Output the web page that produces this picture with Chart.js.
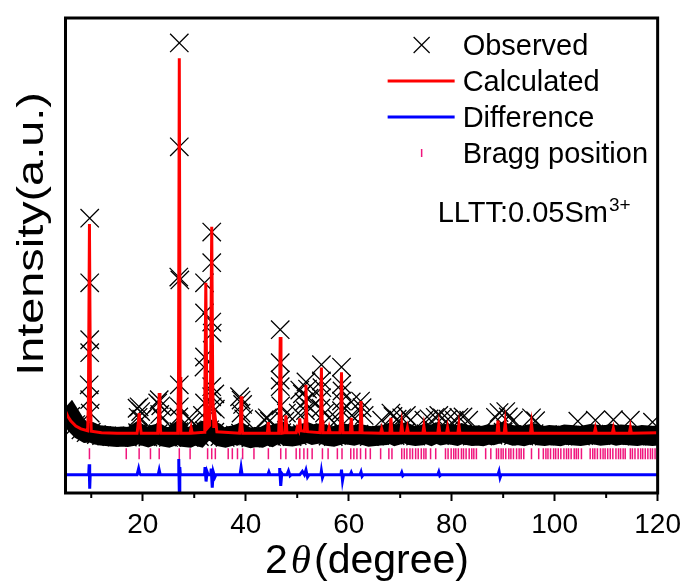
<!DOCTYPE html>
<html>
<head>
<meta charset="utf-8">
<script src="https://cdn.jsdelivr.net/npm/chart.js@4.4.1/dist/chart.umd.min.js"></script>
<style>
  html, body { margin: 0; padding: 0; background: #fff; }
  canvas { display: block; }
</style>
</head>
<body>
<canvas id="chart" width="688" height="583"></canvas>
<script>
// axis ticks
var xTickLabels = [20, 40, 60, 80, 100, 120];
var xMinorTicks = [10, 30, 50, 70, 90, 110];

// observed background, read about once per degree
var obsBaseX = [5, 6, 7, 8, 9, 10, 11, 12, 13, 14,
  15, 16, 17, 18, 19, 20, 21, 22, 23, 24,
  25, 26, 27, 28, 29, 30, 31, 32, 33, 34,
  35, 36, 37, 38, 39, 40, 41, 42, 43, 44,
  45, 46, 47, 48, 49, 50, 51, 52, 53, 54,
  55, 56, 57, 58, 59, 60, 61, 62, 63, 64,
  65, 66, 67, 68, 69, 70, 71, 72, 73, 74,
  75, 76, 77, 78, 79, 80, 81, 82, 83, 84,
  85, 86, 87, 88, 89, 90, 91, 92, 93, 94,
  95, 96, 97, 98, 99, 100, 101, 102, 103, 104,
  105, 106, 107, 108, 109, 110, 111, 112, 113, 114,
  115, 116, 117, 118, 119, 120];
var obsBaseY = [15.6, 16.8, 15.1, 14.0, 13.4, 13.5, 13.0, 12.8, 12.7, 12.6,
  12.5, 12.6, 12.5, 12.7, 13.4, 12.8, 12.5, 12.9, 13.2, 12.6,
  12.4, 12.8, 13.6, 12.5, 12.4, 12.9, 12.6, 13.8, 14.0, 13.5,
  12.6, 12.4, 12.7, 12.9, 13.3, 12.6, 12.3, 12.5, 12.4, 12.9,
  12.6, 13.2, 13.4, 12.7, 12.6, 12.8, 13.2, 13.4, 13.0, 13.2,
  13.1, 12.7, 12.6, 12.9, 13.2, 13.0, 12.8, 13.1, 12.9, 12.6,
  12.7, 12.8, 12.9, 13.3, 12.8, 13.1, 13.4, 12.9, 12.7, 12.8,
  13.2, 12.8, 13.3, 12.9, 13.1, 13.0, 12.8, 13.2, 12.9, 12.7,
  12.8, 12.7, 13.0, 12.9, 13.2, 13.5, 13.1, 12.8, 12.9, 12.7,
  13.0, 13.2, 12.8, 12.7, 12.9, 12.8, 12.7, 13.0, 12.9, 12.8,
  12.7, 12.9, 13.1, 13.0, 12.8, 12.9, 13.1, 12.8, 13.0, 12.9,
  12.8, 12.7, 12.9, 12.8, 12.7, 12.8];

// observed points on the reflections [2theta, intensity]
var obsPeaks = [
  [9.7, 58.2], [9.7, 44.7], [9.7, 32.8], [9.7, 30.1], [9.6, 23.4], [9.7, 20.3], [9.8, 17.5],
  [18.9, 18.5], [19.3, 18.8], [19.6, 17.8], [19.1, 16.6], [19.8, 16.2],
  [22.9, 19.6], [23.2, 20.3], [23.5, 19.0], [23.3, 17.2], [23.8, 16.4],
  [27.1, 94.8], [27.1, 73.1], [27.0, 45.9], [27.2, 45.3], [27.1, 23.4], [27.1, 18.8], [27.0, 16.7],
  [29.4, 15.8], [29.0, 16.4],
  [32.0, 44.7], [32.0, 38.4], [32.0, 29.2], [31.9, 27.1], [32.0, 19.6], [31.6, 17.0],
  [33.4, 55.3], [33.4, 48.9], [33.4, 36.5], [33.5, 34.2], [33.4, 23.0], [33.4, 20.9], [33.5, 18.8],
  [34.0, 21.5], [34.1, 18.3],
  [38.8, 20.9], [39.1, 20.2], [39.4, 19.3], [39.1, 17.5], [39.6, 16.3],
  [44.2, 16.5], [44.6, 15.8], [43.6, 16.1],
  [46.7, 34.9], [46.7, 28.0], [46.7, 24.4], [46.7, 23.0], [46.8, 19.0], [47.9, 17.5], [47.6, 15.8],
  [50.5, 22.3], [51.0, 21.5], [51.3, 19.8], [51.7, 24.0], [52.0, 22.5], [52.3, 20.6], [51.6, 18.0],
  [52.6, 18.5], [50.2, 17.5],
  [54.7, 27.6], [54.7, 24.2], [54.8, 22.8], [54.7, 20.7], [54.6, 18.5], [55.3, 17.5], [56.2, 16.5],
  [58.6, 27.1], [58.6, 23.5], [58.7, 22.1], [58.6, 20.0], [58.6, 18.0], [57.8, 16.2],
  [60.5, 19.8], [60.6, 17.0], [61.2, 16.4],
  [62.3, 20.0], [62.6, 18.6], [63.0, 17.0],
  [66.4, 16.0], [68.2, 17.5], [68.6, 16.8], [69.4, 16.2], [70.3, 16.5], [71.2, 17.0], [72.0, 16.0],
  [74.6, 16.0], [75.6, 16.3], [76.8, 16.6], [77.5, 17.0], [78.2, 16.5], [79.3, 16.2],
  [80.5, 16.0], [81.4, 16.6], [82.2, 16.7], [83.3, 16.0], [88.5, 16.6],
  [89.2, 17.6], [90.5, 17.8], [91.0, 16.7], [92.0, 16.0], [95.5, 16.5], [96.3, 15.9],
  [104.5, 15.8], [107.9, 16.0], [111.4, 16.1], [114.7, 16.0], [119.0, 15.6]
];

// calculated profile vertices [2theta, intensity]
var calcPts = [
  [5, 17.9], [5.5, 16.7], [6, 15.9], [7, 14.8], [8, 14.2], [9.3, 13.8],
  [9.45, 20], [9.65, 57], [9.85, 20], [10.0, 13.7], [12, 13.4], [15, 13.3],
  [18.9, 13.3], [19.1, 15], [19.3, 17.5], [19.5, 15], [19.7, 13.3],
  [22.9, 13.3], [23.05, 16], [23.2, 21.7], [23.35, 16], [23.5, 13.3],
  [26.8, 13.3], [26.95, 25], [27.1, 91.6], [27.25, 25], [27.4, 13.3],
  [29.2, 13.3], [29.4, 14.4], [29.6, 13.3],
  [31.9, 13.5], [32.05, 20], [32.25, 44.7], [32.45, 20], [32.6, 14.4],
  [33.0, 14.9], [33.15, 22], [33.4, 56.4], [33.6, 22], [33.8, 14.4], [34.1, 16.4], [34.4, 13.6],
  [38.8, 13.3], [38.95, 15], [39.1, 21], [39.25, 15], [39.4, 13.3],
  [44.2, 13.3], [44.4, 15.6], [44.6, 13.3],
  [46.4, 13.3], [46.55, 18], [46.7, 33.4], [46.85, 18], [47.0, 13.3],
  [47.6, 13.4], [47.8, 17], [48.0, 13.4],
  [49.8, 13.4], [50.0, 14.4], [50.3, 13.8], [50.5, 16.4], [50.7, 13.8],
  [51.4, 13.7], [51.55, 16], [51.7, 23.4], [51.85, 16], [52.0, 13.6],
  [54.4, 13.4], [54.55, 16], [54.7, 27], [54.85, 16], [55.0, 13.4],
  [56.0, 13.4], [56.2, 14.4], [56.4, 13.4],
  [58.3, 13.4], [58.45, 16], [58.6, 26], [58.75, 16], [58.9, 13.4],
  [60.3, 13.4], [60.5, 16.5], [60.7, 13.4],
  [62.2, 13.4], [62.4, 20], [62.6, 13.4],
  [66.2, 13.3], [66.4, 14.2], [66.6, 13.3],
  [68.0, 13.3], [68.2, 16.5], [68.4, 13.3],
  [70.1, 13.3], [70.3, 15.2], [70.5, 13.3],
  [71.2, 13.3], [71.4, 14.4], [71.6, 13.3],
  [74.4, 13.3], [74.6, 14.8], [74.8, 13.3],
  [77.3, 13.3], [77.5, 15.0], [77.7, 13.3],
  [79.0, 13.3], [79.2, 14.5], [79.4, 13.3],
  [81.2, 13.3], [81.4, 15.0], [81.6, 13.3],
  [88.8, 13.3], [89.0, 15.9], [89.2, 13.3],
  [90.2, 13.3], [90.4, 15.4], [90.6, 13.3],
  [95.3, 13.3], [95.5, 15.2], [95.7, 13.3],
  [107.7, 13.3], [107.9, 14.3], [108.1, 13.3],
  [111.2, 13.3], [111.4, 14.3], [111.6, 13.3],
  [114.5, 13.3], [114.7, 14.5], [114.9, 13.3],
  [120, 13.4]
];

// difference curve vertices [2theta, intensity]
var diffPts = [
  [5, 4.6], [9.5, 4.6], [9.6, 6.8], [9.7, 1.7], [9.8, 4.6],
  [18.9, 4.6], [19.2, 5.9], [19.4, 4.9], [19.6, 4.6],
  [23.0, 4.6], [23.2, 5.6], [23.4, 4.6],
  [26.9, 4.6], [27.0, 7.9], [27.1, 0.9], [27.2, 6.2], [27.3, 4.6],
  [32.0, 4.6], [32.1, 6.2], [32.3, 3.2], [32.5, 5.2], [32.7, 4.6],
  [33.2, 4.6], [33.3, 5.9], [33.5, 1.9], [33.7, 5.2], [34.0, 4.1], [34.2, 4.6],
  [38.9, 4.6], [39.1, 6.1], [39.3, 4.6],
  [44.3, 4.6], [44.5, 5.2], [44.7, 4.6],
  [46.5, 4.6], [46.6, 6.0], [46.8, 2.3], [47.0, 4.9], [47.2, 4.6],
  [48.0, 4.6], [48.3, 5.4], [48.6, 4.4], [48.8, 4.6],
  [50.5, 4.6], [51.0, 5.3], [51.4, 4.6], [51.7, 5.6], [52.0, 4.1], [52.3, 4.6],
  [54.6, 4.6], [54.7, 5.4], [54.9, 4.0], [55.1, 4.6],
  [58.5, 4.6], [58.6, 5.7], [58.8, 3.4], [59.0, 4.6],
  [60.3, 4.6], [60.5, 5.1], [60.7, 4.6],
  [62.2, 4.6], [62.4, 5.2], [62.6, 4.3], [62.8, 4.6],
  [70.1, 4.6], [70.3, 5.1], [70.5, 4.4], [70.7, 4.6],
  [77.3, 4.6], [77.5, 5.2], [77.7, 4.4], [77.9, 4.6],
  [89.0, 4.6], [89.2, 5.3], [89.4, 4.0], [89.6, 4.6],
  [120, 4.6]
];

// Bragg reflection positions (2theta)
var braggX = [9.65, 16.8, 19.3, 21.5, 23.2, 27.1, 29.2, 32.6, 33.4, 34.1, 36.6, 37.4, 38.4, 39.4,
  41.6, 44.4, 46.8, 47.8, 49.8, 50.5, 51.3, 52.0, 52.9, 54.9, 56.0, 57.8, 58.7, 60.4, 61.0, 61.6,
  62.3, 63.3, 64.2, 66.2, 67.8, 68.4, 70.3, 70.8, 71.3, 71.9, 72.4, 73.0, 73.5, 74.1, 74.6, 75.0,
  75.9, 76.9, 78.8, 79.3, 79.9, 80.4, 80.8, 81.3, 81.9, 82.3, 82.8, 83.4, 83.9, 84.3, 84.8,
  86.6, 87.6, 88.7, 89.1, 89.6, 90.0, 90.5, 91.1, 91.5, 92.0, 92.6, 93.1, 93.5, 94.0,
  95.5, 96.9, 97.8, 98.3, 98.7, 99.2, 99.8, 100.2, 100.7, 101.2, 101.8, 102.3, 102.7, 103.2,
  103.8, 104.2, 104.6, 105.2, 106.9, 107.4, 107.8, 108.3, 108.9, 109.4, 109.8, 110.3, 110.8,
  111.3, 111.9, 112.4, 112.8, 113.3, 113.7, 114.7, 115.1, 115.6, 116.2, 116.7, 117.1, 117.6,
  118.1, 118.6, 119.0, 119.5];
var braggLevel = 9.0;

function toXY(pts) {
    return pts.map(function (p) { return { x: p[0], y: p[1] }; });
}

var baseData = obsBaseX.map(function (x, i) { return { x: x, y: obsBaseY[i] }; });
var observedData = baseData.concat(toXY(obsPeaks));
var braggData = braggX.map(function (x) { return { x: x, y: braggLevel }; });

var FONT = "'Liberation Sans', Arial, sans-serif";

var decor = {
    id: 'decor',
    afterDraw: function (chart) {
        var ctx = chart.ctx;
        var ca = chart.chartArea;
        var xs = chart.scales.x;
        ctx.save();

        // frame
        ctx.strokeStyle = '#000';
        ctx.lineWidth = 3;
        ctx.strokeRect(ca.left, ca.top, ca.right - ca.left, ca.bottom - ca.top);

        // minor ticks
        ctx.lineWidth = 2;
        xMinorTicks.forEach(function (v) {
            var px = xs.getPixelForValue(v);
            ctx.beginPath();
            ctx.moveTo(px, ca.bottom);
            ctx.lineTo(px, ca.bottom + 5);
            ctx.stroke();
        });

        // legend
        var ds = chart.data.datasets;
        var items = [ds[3], ds[0], ds[1], ds[2]];
        var mx = ca.right - 236;
        var tx = ca.right - 195;
        ctx.font = '29px ' + FONT;
        ctx.textBaseline = 'alphabetic';
        ctx.textAlign = 'left';
        items.forEach(function (d, i) {
            var base = ca.top + 37 + i * 36;
            var my = base - 10;
            ctx.strokeStyle = d.borderColor;
            if (d.legendKind === 'cross') {
                ctx.lineWidth = 1.2;
                ctx.beginPath();
                ctx.moveTo(mx - 8, my - 8); ctx.lineTo(mx + 8, my + 8);
                ctx.moveTo(mx + 8, my - 8); ctx.lineTo(mx - 8, my + 8);
                ctx.stroke();
            } else if (d.legendKind === 'line') {
                ctx.lineWidth = 3;
                ctx.beginPath();
                ctx.moveTo(mx - 34, my); ctx.lineTo(mx + 33, my);
                ctx.stroke();
            } else {
                ctx.lineWidth = 1.5;
                ctx.beginPath();
                ctx.moveTo(mx, my - 4); ctx.lineTo(mx, my + 4);
                ctx.stroke();
            }
            ctx.fillStyle = '#000';
            ctx.fillText(d.label, tx, base);
        });

        // sample label
        var lx = ca.right - 220;
        var ly = ca.top + 204;
        ctx.font = '29px ' + FONT;
        ctx.fillText('LLTT:0.05Sm', lx, ly);
        var w = ctx.measureText('LLTT:0.05Sm').width;
        ctx.font = '19px ' + FONT;
        ctx.fillText('3+', lx + w + 1, ly - 11);

        // x title with italic theta
        var parts = [
            { t: '2', f: '41px ' + FONT },
            { t: '\u03B8', f: 'italic 41px "Liberation Serif", serif' },
            { t: '(degree)', f: '41px ' + FONT }
        ];
        var total = 0;
        parts.forEach(function (p) { ctx.font = p.f; p.w = ctx.measureText(p.t).width; total += p.w; });
        total += 6;
        var cx = 367 - total / 2;
        var by = 573;
        parts.forEach(function (p, i) {
            ctx.font = p.f;
            ctx.fillText(p.t, cx, by);
            cx += p.w + (i < 2 ? 3 : 0);
        });

        // y title, drawn wide like the original
        ctx.save();
        ctx.translate(43, 234);
        ctx.rotate(-Math.PI / 2);
        ctx.scale(1.3, 1);
        ctx.font = '36px ' + FONT;
        ctx.textAlign = 'center';
        ctx.textBaseline = 'alphabetic';
        ctx.fillText('Intensity(a.u.)', 0, 0);
        ctx.restore();

        ctx.restore();
    }
};

new Chart(document.getElementById('chart'), {
    type: 'scatter',
    data: {
        datasets: [{
            label: 'Calculated',
            legendKind: 'line',
            data: toXY(calcPts),
            showLine: true,
            borderColor: '#ff0000',
            borderWidth: 3,
            pointRadius: 0
        }, {
            label: 'Difference',
            legendKind: 'line',
            data: toXY(diffPts),
            showLine: true,
            borderColor: '#0000ff',
            borderWidth: 3,
            pointRadius: 0
        }, {
            label: 'Bragg position',
            legendKind: 'tick',
            data: braggData,
            showLine: false,
            pointStyle: 'line',
            rotation: 90,
            pointRadius: 5.5,
            borderColor: '#f0157d',
            borderWidth: 1.5
        }, {
            label: 'Observed',
            legendKind: 'cross',
            data: observedData,
            showLine: false,
            pointStyle: 'crossRot',
            pointRadius: 13,
            borderColor: '#000',
            borderWidth: 1.3
        }, {
            label: 'band',
            data: baseData,
            showLine: true,
            borderColor: '#000',
            borderWidth: 20,
            pointRadius: 0
        }]
    },
    options: {
        responsive: false,
        animation: false,
        layout: { padding: { top: 18, right: 30, left: 0, bottom: 0 } },
        plugins: {
            legend: { display: false },
            tooltip: { enabled: false }
        },
        scales: {
            x: {
                type: 'linear',
                min: 5,
                max: 120,
                afterBuildTicks: function (scale) {
                    scale.ticks = xTickLabels.map(function (v) { return { value: v }; });
                },
                afterFit: function (scale) { scale.height = 90; },
                border: { display: false },
                grid: {
                    drawOnChartArea: false,
                    drawTicks: true,
                    tickLength: 8,
                    tickWidth: 2,
                    tickColor: '#000'
                },
                ticks: {
                    autoSkip: false,
                    maxRotation: 0,
                    padding: 7,
                    color: '#000',
                    font: { family: FONT, size: 28 }
                }
            },
            y: {
                type: 'linear',
                min: 0.8,
                max: 100,
                afterFit: function (scale) { scale.width = 65.5; },
                border: { display: false },
                grid: { display: false },
                ticks: { display: false }
            }
        }
    },
    plugins: [decor]
});
</script>
</body>
</html>
